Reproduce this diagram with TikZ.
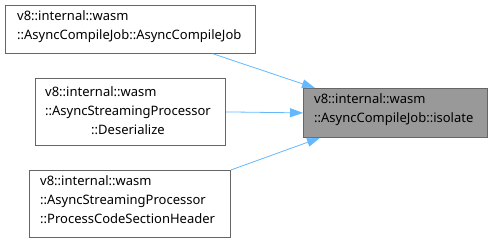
\documentclass[tikz,border=0pt]{standalone}
\usepackage{fontspec}
\setmainfont{Noto Sans}
\usetikzlibrary{arrows.meta,calc}
\definecolor{edgeblue}{HTML}{63B8FF}
\definecolor{boxline}{HTML}{666666}
\definecolor{hilite}{HTML}{999999}
\begin{document}
\begin{tikzpicture}[x=1pt,y=-1pt,
  fnbox/.style={draw=boxline,line width=0.8pt,fill=white,inner sep=0pt,anchor=north west},
  focus/.style={fnbox,fill=hilite},
  label/.style={anchor=north west,inner sep=0pt,font=\fontsize{13}{19}\selectfont},
  calls/.style={draw=edgeblue,line width=0.8pt,
    -{Stealth[length=13pt,width=9pt,inset=0pt]}}]
\useasboundingbox (0,0) rectangle (491,244);
% caller boxes
\node[fnbox,minimum width=250pt,minimum height=48pt] (ctor) at (5,5) {};
\node[label,align=left] (ctortxt) at (17,10)
  {v8::internal::wasm\\::AsyncCompileJob::AsyncCompileJob};
\node[fnbox,minimum width=190pt,minimum height=67pt] (deser) at (35,78) {};
\node[label] (desertxt) at (45,83)
  {\begin{tabular}{@{}l@{}}v8::internal::wasm\\::AsyncStreamingProcessor\\\multicolumn{1}{@{}c@{}}{::Deserialize}\end{tabular}};
\node[fnbox,minimum width=201pt,minimum height=67pt] (hdr) at (29,170) {};
\node[label,align=left] (hdrtxt) at (40,175)
  {v8::internal::wasm\\::AsyncStreamingProcessor\\::ProcessCodeSectionHeader};
% callee
\node[focus,minimum width=184pt,minimum height=49pt] (iso) at (303,88) {};
\node[label,align=left] (isotxt) at (314,93)
  {v8::internal::wasm\\::AsyncCompileJob::isolate};
% call edges
\coordinate (s1) at ($(ctor.south west)+(208,0)$);
\coordinate (e1) at ($(iso.north west)+(12,0)$);
\coordinate (e3) at ($(iso.south west)+(17,0)$);
\draw[calls] (s1) -- (e1);
\draw[calls] (deser.east) -- (iso.west);
\draw[calls] (hdr.north east) -- (e3);
\end{tikzpicture}
\end{document}
